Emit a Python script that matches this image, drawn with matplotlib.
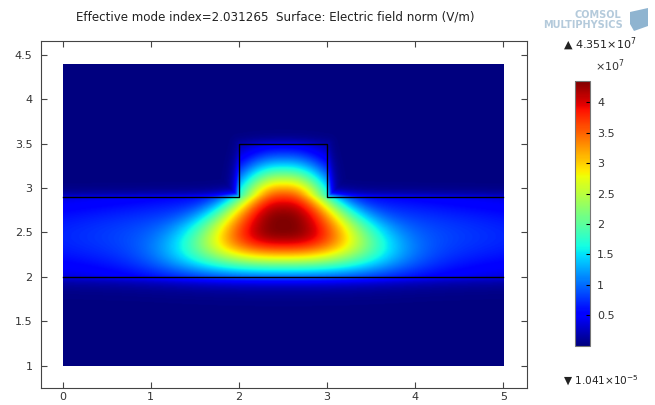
import numpy as np
import matplotlib
matplotlib.use('Agg')
import matplotlib.pyplot as plt
from matplotlib.patches import Polygon

# Geometría de la guía (mismas unidades que los ejes)
dominio = [0.0, 5.0, 1.0, 4.4]      # x0, x1, y0, y1
y_losa = [2.0, 2.9]                 # base y tope de la losa
x_nervio = [2.0, 3.0]               # paredes del nervio
y_nervio_sup = 3.5                  # tope del nervio

# Parámetros del modo
E_max = 4.351e7
E_min = 1.041e-5
x_pico, y_pico = 2.5, 2.58
b_abajo, p_abajo = 0.50, 2.5        # caída vertical hacia el sustrato
b_arriba, p_arriba = 0.66, 2.5      # caída vertical hacia el nervio
ancho_h, p_h = 0.823, 2.4           # perfil horizontal en la fila del pico
k_abajo, k_arriba = 0.9, 1.1        # ensanche abajo / estrechamiento arriba
peso_cola = 0.30                    # parte del modo de losa que llega a los bordes
largo_cola = 4.0
y_cola, ancho_cola = 2.46, 0.58
decae_clad = 0.05
decae_sust = 0.08

ticks_x = [0, 1, 2, 3, 4, 5]
ticks_y = [1, 1.5, 2, 2.5, 3, 3.5, 4, 4.5]
ticks_cb = [0.5, 1, 1.5, 2, 2.5, 3, 3.5, 4]

titulo = 'Effective mode index=2.031265  Surface: Electric field norm (V/m)'


def campo_nucleo(x, y):
    dy = y - y_pico
    v = np.where(dy < 0, np.exp(-(np.abs(dy) / b_abajo)**p_abajo),
                 np.exp(-(np.abs(dy) / b_arriba)**p_arriba))
    s = np.where(dy < 0, 1 + k_abajo * np.abs(dy), 1 - k_arriba * dy)
    s = np.clip(s, 0.62, 2.0)
    dx = x - x_pico
    g = np.exp(-(np.abs(dx) / (ancho_h * s))**p_h)
    t = np.exp(-((y - y_cola) / ancho_cola)**2)
    cola = peso_cola * t * np.exp(-np.abs(dx) / largo_cola)
    return v * g + (1 - g) * cola


xs = np.linspace(dominio[0], dominio[1], 600)
ys = np.linspace(dominio[2], dominio[3], 420)
X, Y = np.meshgrid(xs, ys)

# losa y sustrato
E = campo_nucleo(X, np.clip(Y, y_losa[0], y_losa[1]))
E = np.where(Y < y_losa[0], E * np.exp(-(y_losa[0] - Y) / decae_sust), E)
arriba = Y > y_losa[1]
E_losa = campo_nucleo(X, y_losa[1]) * np.exp(-(Y - y_losa[1]) / decae_clad)
# nervio y su entorno
xr = np.clip(X, x_nervio[0], x_nervio[1])
yr = np.clip(Y, y_losa[1], y_nervio_sup)
dist = np.hypot(X - xr, Y - yr)
E_nervio = campo_nucleo(xr, yr) * np.exp(-dist / decae_clad)
E = np.where(arriba, np.maximum(E_losa, E_nervio), E)
E = E / E.max() * E_max

fig = plt.figure(figsize=(6.55, 4.05), dpi=100)
ax = fig.add_axes([41 / 655, 1 - 388.3 / 405, 486.3 / 655, 347.3 / 405])
im = ax.imshow(E, extent=dominio, origin='lower', cmap='jet', vmin=E_min, vmax=E_max,
               aspect='auto', interpolation='bilinear')

# contornos de la geometría
lc = dict(color='black', lw=1.0)
ax.plot([dominio[0], dominio[1]], [y_losa[0], y_losa[0]], **lc)
ax.plot([dominio[0], x_nervio[0], x_nervio[0], x_nervio[1], x_nervio[1], dominio[1]],
        [y_losa[1], y_losa[1], y_nervio_sup, y_nervio_sup, y_losa[1], y_losa[1]], **lc)

ax.set_xlim(-0.246, 5.273)
ax.set_ylim(0.743, 4.658)
ax.set_xticks(ticks_x)
ax.set_xticklabels([str(t) for t in ticks_x])
ax.set_yticks(ticks_y)
ax.set_yticklabels([('%g' % t) for t in ticks_y])
ax.tick_params(direction='in', top=True, right=True, length=4, width=0.8,
               color='#444444', labelcolor='#333333', labelsize=8, pad=6)
ax.tick_params(axis='x', pad=3)
for sp in ax.spines.values():
    sp.set_color('#444444')
    sp.set_linewidth(0.8)

fig.text(0.4206, 0.957, titulo, ha='center', va='center', fontsize=8.6, color='#222222')

# barra de color
cax = fig.add_axes([575 / 655, 1 - 345.7 / 405, 15 / 655, 264.7 / 405])
cb = fig.colorbar(im, cax=cax, ticks=[t * 1e7 for t in ticks_cb])
cb.ax.set_yticklabels([('%g' % t) for t in ticks_cb])
cb.ax.tick_params(direction='in', length=3, width=0.8, color='black',
                  labelcolor='#333333', labelsize=8, pad=5)
cb.outline.set_edgecolor('#777777')
cb.outline.set_linewidth(0.8)

fig.text(610 / 655, 1 - 66 / 405, r'$\times10^{7}$', ha='center', va='center',
         fontsize=8, color='#333333')
fig.text(563 / 655, 1 - 44 / 405, r'▲ 4.351$\times10^{7}$', ha='left', va='center',
         fontsize=8, color='#222222')
fig.text(563 / 655, 1 - 381 / 405, r'▼ 1.041$\times10^{-5}$', ha='left', va='center',
         fontsize=7.6, color='#222222')

# logotipo
fig.text(621 / 655, 1 - 15 / 405, 'COMSOL', ha='right', va='center', fontsize=7,
         color='#b4cadb', fontweight='bold')
fig.text(623 / 655, 1 - 25 / 405, 'MULTIPHYSICS', ha='right', va='center', fontsize=7,
         color='#b4cadb', fontweight='bold')
fig.patches.append(Polygon([[630 / 655, 1 - 12 / 405], [648 / 655, 1 - 8 / 405],
                            [648 / 655, 1 - 26 / 405], [634 / 655, 1 - 31 / 405],
                            [630 / 655, 1 - 24 / 405]], closed=True,
                           transform=fig.transFigure, facecolor='#8fb4d0',
                           edgecolor='none'))

fig.savefig('out.png', dpi=100)
